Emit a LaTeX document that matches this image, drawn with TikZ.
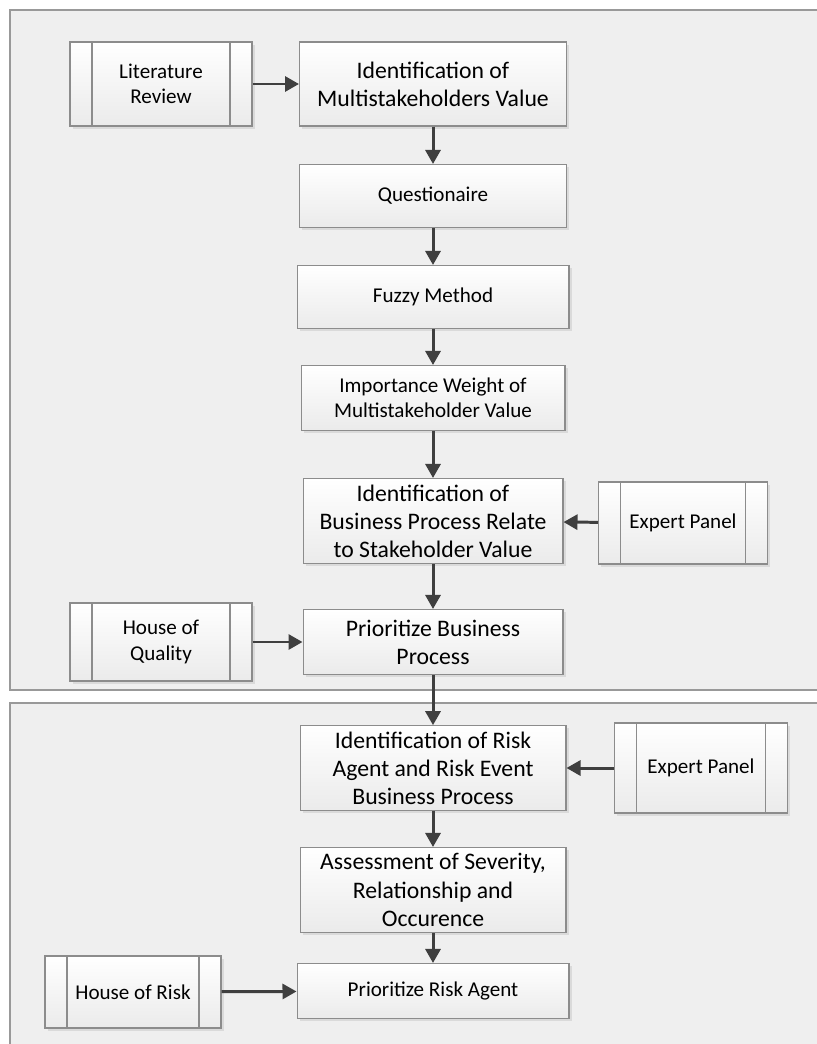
\documentclass[tikz,border=0pt]{standalone}
\usepackage{fontspec}
\setmainfont{Carlito}
\usepackage{tikz}
\usetikzlibrary{arrows.meta,shadows}

\definecolor{panelgray}{HTML}{EFEFEF}
\definecolor{edgegray}{HTML}{8C8C8C}
\definecolor{arrowgray}{HTML}{3F3F3F}

\begin{document}
\begin{tikzpicture}[x=0.02cm,y=-0.02cm]% 1 unit = 1 px of the sketch
\useasboundingbox (0,0) rectangle (817,1044);
\tikzstyle{panel}=[draw=black!40, line width=0.9pt, fill=panelgray]
\tikzstyle{box}=[draw=edgegray, line width=0.6pt, rectangle, align=center,
  top color=white, bottom color=black!8, text=black,
  drop shadow={opacity=0.18, shadow xshift=1.5pt, shadow yshift=-1.5pt}]
\tikzstyle{subproc}=[box, path picture={
  \draw[edgegray, line width=0.6pt]
    ([xshift=0.44cm]path picture bounding box.north west) -- ([xshift=0.44cm]path picture bounding box.south west)
    ([xshift=-0.44cm]path picture bounding box.north east) -- ([xshift=-0.44cm]path picture bounding box.south east);}]
\tikzstyle{flow}=[arrowgray, line width=1.7pt, -{Triangle[length=0.28cm,width=0.3cm]}]
\tikzstyle{big}=[font=\fontsize{13.5}{16}\selectfont]
\tikzstyle{mid}=[font=\fontsize{12}{14.5}\selectfont]

% the two stages
\draw[panel] (10,10) rectangle (830,690);
\draw[panel] (10,703) rectangle (830,1060);

% stage 1
\node[subproc, mid, minimum width=3.64cm, minimum height=1.68cm] (litrev) at (161,84) {Literature\\Review};
\node[box, big, minimum width=5.34cm, minimum height=1.68cm] (identmv) at (433,84) {Identification of\\Multistakeholders Value};
\node[box, mid, minimum width=5.34cm, minimum height=1.26cm] (quest) at (433,196) {Questionaire};
\node[box, mid, minimum width=5.44cm, minimum height=1.26cm] (fuzzy) at (433,297) {Fuzzy Method};
\node[box, mid, minimum width=5.28cm, minimum height=1.30cm] (impweight) at (433,398) {Importance Weight of\\Multistakeholder Value};
\node[box, big, minimum width=5.20cm, minimum height=1.70cm] (identbp) at (433,521) {Identification of\\Business Process Relate\\to Stakeholder Value};
\node[subproc, mid, minimum width=3.38cm, minimum height=1.64cm] (expert) at (683,523) {Expert Panel};
\node[box, big, minimum width=5.20cm, minimum height=1.30cm] (prioribp) at (433,642) {Prioritize Business\\Process};
\node[subproc, mid, minimum width=3.64cm, minimum height=1.56cm] (hoq) at (161,642) {House of\\Quality};

% stage 2
\node[box, big, minimum width=5.32cm, minimum height=1.68cm] (identrisk) at (433,768) {Identification of Risk\\Agent and Risk Event\\Business Process};
\node[subproc, mid, minimum width=3.46cm, minimum height=1.80cm] (expertb) at (701,768) {Expert Panel};
\node[box, big, minimum width=5.32cm, minimum height=1.70cm] (assess) at (433,890) {Assessment of Severity,\\Relationship and\\Occurence};
\node[box, mid, minimum width=5.44cm, minimum height=1.10cm] (prioriagent) at (433,991) {Prioritize Risk Agent};
\node[subproc, mid, minimum width=3.52cm, minimum height=1.44cm] (hor) at (133,992) {House of Risk};

% arrows
\draw[flow] (litrev) -- (identmv);
\draw[flow] (identmv) -- (quest);
\draw[flow] (quest) -- (fuzzy);
\draw[flow] (fuzzy) -- (impweight);
\draw[flow] (impweight) -- (identbp);
\draw[flow] (expert) -- (identbp);
\draw[flow] (identbp) -- (prioribp);
\draw[flow] (hoq) -- (prioribp);
\draw[flow] (prioribp) -- (identrisk);
\draw[flow] (expertb) -- (identrisk);
\draw[flow] (identrisk) -- (assess);
\draw[flow] (assess) -- (prioriagent);
\draw[flow] (hor) -- (prioriagent);

\end{tikzpicture}
\end{document}
